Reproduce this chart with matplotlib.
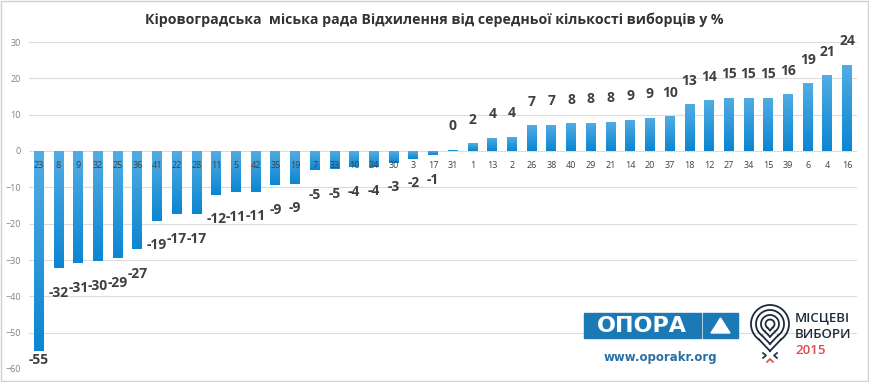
import numpy as np
import matplotlib
matplotlib.use("Agg")
import matplotlib.pyplot as plt
from matplotlib.colors import LinearSegmentedColormap
from matplotlib.patches import Rectangle, Polygon

# district numbers and deviation from mean voter count, %
districts = ["23", "8", "9", "32", "25", "36", "41", "22", "28", "11", "5", "42",
             "35", "19", "7", "33", "10", "24", "30", "3", "17", "31", "1", "13",
             "2", "26", "38", "40", "29", "21", "14", "20", "37", "18", "12", "27",
             "34", "15", "39", "6", "4", "16"]
deviation = [-55.0, -32.2, -30.9, -30.4, -29.4, -27.1, -19.2, -17.4, -17.3, -12.0,
             -11.4, -11.2, -9.4, -9.0, -5.2, -5.0, -4.4, -4.3, -3.2, -2.1, -1.2,
             0.3, 2.1, 3.6, 3.9, 7.1, 7.2, 7.6, 7.8, 8.0, 8.6, 9.1, 9.6, 12.8,
             14.0, 14.6, 14.6, 14.7, 15.6, 18.6, 20.8, 23.8]
yticks = [-60, -50, -40, -30, -20, -10, 0, 10, 20, 30]

title = "Кіровоградська  міська рада Відхилення від середньої кількості виборців у %"

plt.rcParams['font.family'] = ['Open Sans', 'DejaVu Sans']

W, H = 869, 382
fig = plt.figure(figsize=(W / 100, H / 100), dpi=100)
ax = fig.add_axes([29 / W, 13 / H, 828 / W, 327 / H])

x = np.arange(len(districts))
bars = ax.bar(x, deviation, width=0.5, color="#2a95d8", edgecolor="none", zorder=2)

# vertical gradient: light at top, darker at bottom
grad = LinearSegmentedColormap.from_list("g", ["#0b86d2", "#52ace3"])
g = np.linspace(0, 1, 64).reshape(-1, 1)
for b, v in zip(bars, deviation):
    x0 = b.get_x()
    im = ax.imshow(g, cmap=grad, origin="lower", aspect="auto",
                   extent=[x0, x0 + b.get_width(), min(0, v), max(0, v)], zorder=2)
    im.set_clip_path(b)

# value labels
for xi, v in zip(x, deviation):
    if v >= 0:
        ly = v + 6.5
    else:
        ly = max(v - 6.8, -57.6)
    ax.text(xi, ly, "%d" % round(v), ha="center", va="center", fontsize=10,
            fontweight="bold", color="#404040", zorder=4)

# district labels along zero line
for xi, d in zip(x, districts):
    ax.text(xi, -4.1, d, ha="center", va="center", fontsize=6.5,
            color="#404040", zorder=4)

ax.set_xlim(-0.5, len(districts) - 0.5)
ax.set_ylim(-60, 30)
ax.set_yticks(yticks)
ax.set_xticks([])
ax.tick_params(axis="y", length=0, labelsize=6.5, labelcolor="#808080", pad=6)
ax.grid(axis="y", color="#dcdcdc", linewidth=0.8, zorder=0)
ax.set_axisbelow(True)
for s in ax.spines.values():
    s.set_visible(False)

fig.text(434 / W, 1 - 20 / H, title, ha="center", va="center", fontsize=10.2,
         fontweight="bold", color="#333333")

# overlay in pixel coordinates for border and logos
ov = fig.add_axes([0, 0, 1, 1], zorder=5)
ov.set_xlim(0, W)
ov.set_ylim(H, 0)
ov.axis("off")
ov.patch.set_alpha(0)
ov.add_patch(Rectangle((0.5, 0.5), W - 1.5, H - 1.5, fill=False,
                       edgecolor="#d0d0d0", linewidth=1))

# OPORA logo
ov.add_patch(Rectangle((584, 313), 117, 25, color="#1b7ab6"))
ov.add_patch(Rectangle((703, 313), 35, 25, color="#1b7ab6"))
ov.add_patch(Polygon([[711, 333], [730, 333], [720.5, 318]], color="white"))
ov.text(642, 326, "ОПОРА", ha="center", va="center", fontsize=16,
        fontweight="bold", color="white", family="DejaVu Sans")
ov.text(660, 358, "www.oporakr.org", ha="center", va="center", fontsize=8.5,
        fontweight="bold", color="#2a6fa3", family="DejaVu Sans")

# local elections pin logo
cx, cy = 770, 324
navy = "#1d2b3a"
for r in [19, 14, 9, 4.5]:
    ang = np.linspace(np.radians(-55), np.radians(235), 80)
    ov.plot(cx + r * np.cos(ang), cy - r * np.sin(ang), color=navy, lw=1.3)
    tip = cy + 27 * r / 19
    ov.plot([cx + r * np.cos(np.radians(-55)), cx],
            [cy - r * np.sin(np.radians(-55)), tip], color=navy, lw=1.3)
    ov.plot([cx + r * np.cos(np.radians(235)), cx],
            [cy - r * np.sin(np.radians(235)), tip], color=navy, lw=1.3)
ov.plot([763, 766, 763], [353, 355.5, 358], color=navy, lw=1.2)
ov.plot([777, 774, 777], [353, 355.5, 358], color=navy, lw=1.2)
ov.plot([767, 770, 773], [362, 359, 362], color="#e04a4a", lw=1.2)
ov.text(795, 318, "МІСЦЕВІ", ha="left", va="center", fontsize=9.5,
        fontweight="semibold", color=navy)
ov.text(795, 334, "ВИБОРИ", ha="left", va="center", fontsize=9.5,
        fontweight="semibold", color=navy)
ov.text(795, 351, "2015", ha="left", va="center", fontsize=9.5,
        fontweight="semibold", color="#e04a4a")

fig.savefig("out.png", dpi=100)
